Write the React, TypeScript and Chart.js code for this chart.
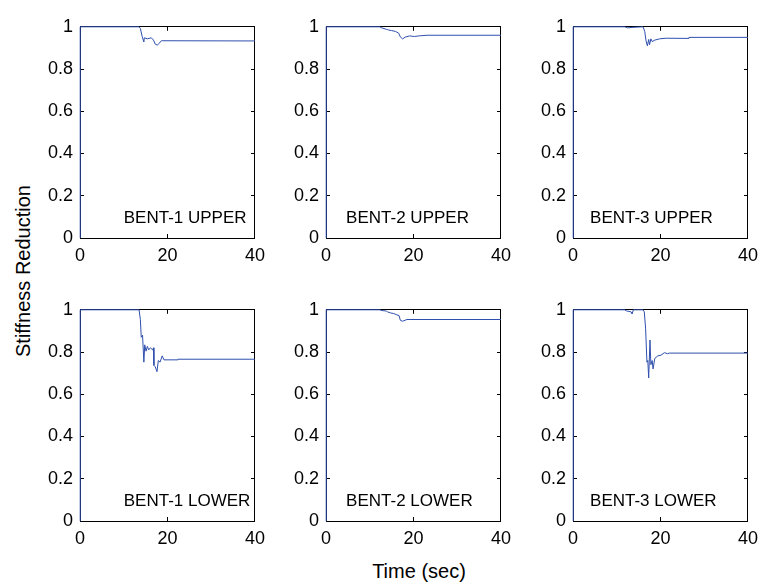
import React, { useEffect, useRef } from "react";
import { Chart, registerables } from "chart.js";

Chart.register(...registerables);

// ---- data (time in sec, stiffness reduction) ----
const xTicks = [0, 20, 40];
const yTicks = [0, 0.2, 0.4, 0.6, 0.8, 1];

const bent1UpperT = [0, 0.05, 12.2, 13.5, 13.8, 14.2, 14.6, 14.7, 15.4, 16.3, 16.8, 17.2, 17.7, 18.1, 18.6, 40];
const bent1UpperY = [0, 1, 1, 1, 0.992, 0.955, 0.928, 0.948, 0.943, 0.948, 0.937, 0.918, 0.913, 0.922, 0.934, 0.933];

const bent2UpperT = [0, 0.05, 12.3, 12.6, 13.8, 14.3, 15.0, 15.9, 16.6, 17.0, 17.5, 18.1, 19.1, 20.2, 21.3, 23.1, 40];
const bent2UpperY = [0, 1, 1, 0.996, 0.988, 0.985, 0.982, 0.978, 0.97, 0.952, 0.943, 0.951, 0.957, 0.954, 0.957, 0.96, 0.96];

const bent3UpperT = [0, 0.05, 11.8, 12.5, 13.5, 16.0, 16.4, 16.7, 17.0, 17.3, 17.5, 17.8, 18.1, 18.7, 19.8, 21.3, 26.3, 26.5, 40];
const bent3UpperY = [0, 1, 1, 0.995, 0.997, 1, 0.978, 0.933, 0.91, 0.94, 0.915, 0.943, 0.93, 0.937, 0.943, 0.946, 0.945, 0.95, 0.95];

const bent1LowerT = [0, 0.05, 12.2, 13.5, 13.8, 14.0, 14.3, 14.6, 14.8, 15.1, 15.4, 15.7, 16.1, 16.6, 16.8, 16.9, 17.2, 17.6, 17.9, 18.3, 18.8, 19.2, 22.2, 22.4, 40];
const bent1LowerY = [0, 1, 1, 1, 0.954, 0.87, 0.88, 0.752, 0.834, 0.804, 0.827, 0.81, 0.82, 0.81, 0.82, 0.737, 0.73, 0.707, 0.76, 0.752, 0.782, 0.763, 0.763, 0.766, 0.766];

const bent2LowerT = [0, 0.05, 12.3, 12.6, 13.8, 14.1, 14.8, 15.5, 16.2, 16.7, 17.0, 17.5, 18.5, 40];
const bent2LowerY = [0, 1, 1, 0.997, 0.994, 0.99, 0.985, 0.982, 0.976, 0.973, 0.95, 0.946, 0.954, 0.954];

const bent3LowerT = [0, 0.05, 11.8, 12.2, 13.3, 13.5, 13.8, 16.0, 16.3, 16.6, 16.9, 17.1, 17.3, 17.6, 17.8, 18.1, 18.3, 18.7, 19.4, 20.1, 20.9, 21.6, 22.0, 40];
const bent3LowerY = [0, 1, 1, 0.995, 0.99, 0.98, 1, 1, 0.99, 0.91, 0.752, 0.76, 0.677, 0.857, 0.74, 0.76, 0.72, 0.77, 0.782, 0.785, 0.797, 0.792, 0.795, 0.795];

const panelLabels = ["BENT-1 UPPER", "BENT-2 UPPER", "BENT-3 UPPER", "BENT-1 LOWER", "BENT-2 LOWER", "BENT-3 LOWER"];

// ---- styling / layout ----
const LINE_COLOR = "#2f4fae";
const FONT = "'Liberation Sans', Arial, Helvetica, sans-serif";
const PLOT_W = 186;
const PLOT_H = 223;
const PAD_L = 45;
const PAD_T = 10;
const PAD_R = 10;
const PAD_B = 35;
const colLefts = [80, 326, 573];
const rowTops = [15, 298];
const labelXs = [10, 4.6, 3.9, 10, 4.6, 3.9];
const labelY = 0.07;

type PanelProps = {
  times: number[];
  values: number[];
  label: string;
  labelX: number;
  left: number;
  top: number;
};

function Panel({ times, values, label, labelX, left, top }: PanelProps) {
  const ref = useRef<HTMLCanvasElement | null>(null);
  useEffect(() => {
    if (!ref.current) return;
    const tickFont = { family: FONT, size: 18 };
    const gridOpts = {
      drawOnChartArea: false,
      drawTicks: true,
      tickLength: -4,
      color: "#000",
      lineWidth: 1,
    };
    const borderOpts = { display: true, color: "#000", width: 1 };
    const textPlugin = {
      id: "panelText",
      afterDatasetsDraw(chart: any) {
        const ctx = chart.ctx;
        const xs = chart.scales.x;
        const ys = chart.scales.y;
        ctx.save();
        ctx.fillStyle = "#000";
        ctx.font = `17px ${FONT}`;
        ctx.textAlign = "left";
        ctx.textBaseline = "alphabetic";
        ctx.fillText(label, xs.getPixelForValue(labelX), ys.getPixelForValue(labelY));
        ctx.restore();
      },
    };
    const chart = new Chart(ref.current, {
      type: "line",
      data: {
        datasets: [
          {
            data: times.map((t, i) => ({ x: t, y: values[i] })),
            borderColor: LINE_COLOR,
            borderWidth: 1,
            pointRadius: 0,
            fill: false,
            tension: 0,
            clip: 3,
          } as any,
        ],
      },
      options: {
        responsive: false,
        animation: false,
        devicePixelRatio: 1,
        layout: { padding: { left: 0, top: PAD_T, right: PAD_R, bottom: 0 } },
        plugins: { legend: { display: false }, tooltip: { enabled: false }, title: { display: false } },
        scales: {
          x: {
            type: "linear",
            position: "bottom",
            min: 0,
            max: 40,
            afterBuildTicks: (s: any) => {
              s.ticks = xTicks.map((v) => ({ value: v }));
            },
            ticks: {
              color: "#000",
              font: tickFont,
              padding: 11,
              maxRotation: 0,
              autoSkip: false,
              callback: (v: any) => String(v),
            },
            grid: gridOpts,
            border: borderOpts,
            afterFit: (s: any) => {
              s.height = PAD_B;
            },
          },
          x2: {
            type: "linear",
            axis: "x",
            position: "top",
            min: 0,
            max: 40,
            afterBuildTicks: (s: any) => {
              s.ticks = xTicks.map((v) => ({ value: v }));
            },
            ticks: { display: false },
            grid: gridOpts,
            border: borderOpts,
            afterFit: (s: any) => {
              s.height = 0;
            },
          },
          y: {
            type: "linear",
            position: "left",
            min: 0,
            max: 1,
            afterBuildTicks: (s: any) => {
              s.ticks = yTicks.map((v) => ({ value: v }));
            },
            ticks: {
              color: "#000",
              font: tickFont,
              padding: 11,
              autoSkip: false,
              callback: (v: any) => String(Math.round(Number(v) * 10) / 10),
            },
            grid: gridOpts,
            border: borderOpts,
            afterFit: (s: any) => {
              s.width = PAD_L;
            },
          },
          y2: {
            type: "linear",
            axis: "y",
            position: "right",
            min: 0,
            max: 1,
            afterBuildTicks: (s: any) => {
              s.ticks = yTicks.map((v) => ({ value: v }));
            },
            ticks: { display: false },
            grid: gridOpts,
            border: borderOpts,
            afterFit: (s: any) => {
              s.width = 0;
            },
          },
        } as any,
      },
      plugins: [textPlugin],
    });
    return () => chart.destroy();
  }, [times, values, label, labelX]);

  return (
    <canvas
      ref={ref}
      width={PAD_L + PLOT_W + PAD_R}
      height={PAD_T + PLOT_H + PAD_B}
      style={{
        position: "absolute",
        left: left - PAD_L,
        top: top - PAD_T,
        width: PAD_L + PLOT_W + PAD_R,
        height: PAD_T + PLOT_H + PAD_B,
      }}
    />
  );
}

const panels = [
  { t: bent1UpperT, y: bent1UpperY },
  { t: bent2UpperT, y: bent2UpperY },
  { t: bent3UpperT, y: bent3UpperY },
  { t: bent1LowerT, y: bent1LowerY },
  { t: bent2LowerT, y: bent2LowerY },
  { t: bent3LowerT, y: bent3LowerY },
];

export default function App() {
  return (
    <div
      style={{
        position: "absolute",
        left: 0,
        top: 0,
        width: 770,
        height: 583,
        overflow: "hidden",
        background: "#fff",
        fontFamily: FONT,
      }}
    >
      {panels.map((p, i) => (
        <Panel
          key={i}
          times={p.t}
          values={p.y}
          label={panelLabels[i]}
          labelX={labelXs[i]}
          left={colLefts[i % 3]}
          top={rowTops[Math.floor(i / 3)]}
        />
      ))}
      <div
        style={{
          position: "absolute",
          left: 23,
          top: 271,
          transform: "translate(-50%, -50%) rotate(-90deg)",
          whiteSpace: "nowrap",
          fontSize: 20,
          color: "#000",
        }}
      >
        Stiffness Reduction
      </div>
      <div
        style={{
          position: "absolute",
          left: 419,
          top: 571,
          transform: "translate(-50%, -50%)",
          whiteSpace: "nowrap",
          fontSize: 20,
          color: "#000",
        }}
      >
        Time (sec)
      </div>
    </div>
  );
}
